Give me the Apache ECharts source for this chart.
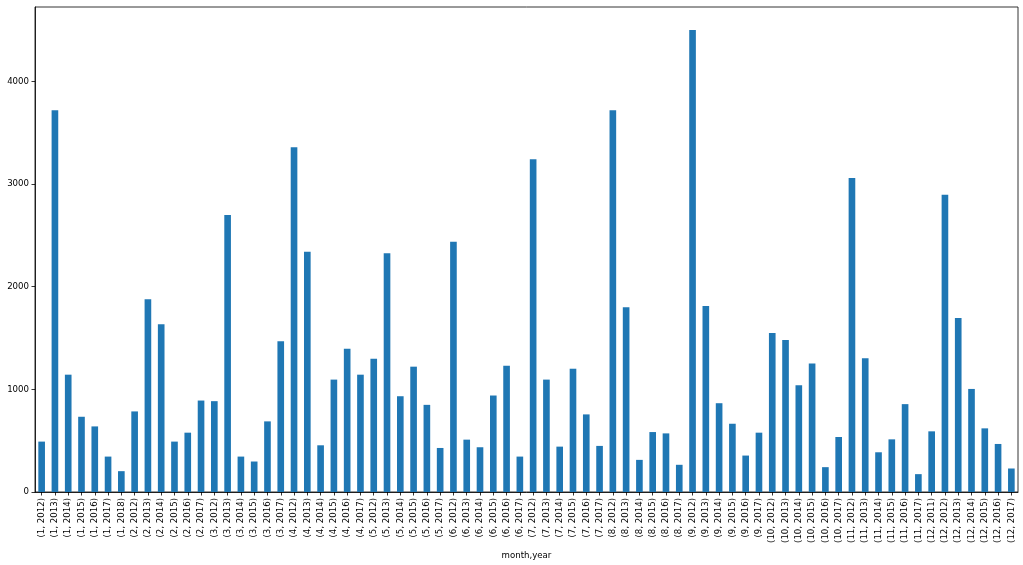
<!DOCTYPE html>
<html>
<head>
<meta charset="utf-8">
<script src="https://cdn.jsdelivr.net/npm/echarts@6/dist/echarts.min.js"></script>
<style>
html,body{margin:0;padding:0;background:#fff;}
#chart{width:1023px;height:565px;}
</style>
</head>
<body>
<div id="chart"></div>
<script>
const categories = [
  "(1, 2012)","(1, 2013)","(1, 2014)","(1, 2015)","(1, 2016)","(1, 2017)","(1, 2018)",
  "(2, 2012)","(2, 2013)","(2, 2014)","(2, 2015)","(2, 2016)","(2, 2017)",
  "(3, 2012)","(3, 2013)","(3, 2014)","(3, 2015)","(3, 2016)","(3, 2017)",
  "(4, 2012)","(4, 2013)","(4, 2014)","(4, 2015)","(4, 2016)","(4, 2017)",
  "(5, 2012)","(5, 2013)","(5, 2014)","(5, 2015)","(5, 2016)","(5, 2017)",
  "(6, 2012)","(6, 2013)","(6, 2014)","(6, 2015)","(6, 2016)","(6, 2017)",
  "(7, 2012)","(7, 2013)","(7, 2014)","(7, 2015)","(7, 2016)","(7, 2017)",
  "(8, 2012)","(8, 2013)","(8, 2014)","(8, 2015)","(8, 2016)","(8, 2017)",
  "(9, 2012)","(9, 2013)","(9, 2014)","(9, 2015)","(9, 2016)","(9, 2017)",
  "(10, 2012)","(10, 2013)","(10, 2014)","(10, 2015)","(10, 2016)","(10, 2017)",
  "(11, 2012)","(11, 2013)","(11, 2014)","(11, 2015)","(11, 2016)","(11, 2017)",
  "(12, 2011)","(12, 2012)","(12, 2013)","(12, 2014)","(12, 2015)","(12, 2016)","(12, 2017)"
];
const values = [
  491, 3720, 1143, 733, 639, 345, 203,
  785, 1879, 1634, 491, 578, 891,
  885, 2699, 345, 297, 688, 1469,
  3358, 2341, 455, 1095, 1395, 1143,
  1298, 2325, 933, 1221, 849, 429,
  2438, 510, 436, 940, 1230, 345,
  3242, 1095, 442, 1201, 756, 449,
  3720, 1799, 313, 584, 571, 265,
  4501, 1811, 865, 665, 355, 578,
  1550, 1482, 1040, 1253, 242, 536,
  3058, 1304, 387, 513, 856, 174,
  591, 2896, 1695, 1004, 620, 468, 229
];
const yTicks = [0, 1000, 2000, 3000, 4000];
const xAxisName = "month,year";

const font = "DejaVu Sans";
const fs = 8.6;
const chart = echarts.init(document.getElementById('chart'), null, {renderer: 'canvas'});
chart.setOption({
  animation: false,
  grid: {left: 35, right: 5, top: 7, bottom: 71, containLabel: false,
         show: true, borderColor: '#000', borderWidth: 0.8, backgroundColor: 'transparent'},
  xAxis: {
    type: 'category',
    data: categories,
    boundaryGap: true,
    name: xAxisName,
    nameLocation: 'middle',
    nameGap: 59,
    nameTextStyle: {fontFamily: font, fontSize: fs, color: '#000'},
    axisLine: {show: true, lineStyle: {color: '#000', width: 0.8}},
    axisTick: {show: true, alignWithLabel: true, length: 3.5, lineStyle: {color: '#000', width: 0.8}},
    axisLabel: {interval: 0, rotate: 90, margin: 6, fontFamily: font, fontSize: fs, color: '#000'},
    splitLine: {show: false}
  },
  yAxis: {
    type: 'value',
    min: 0,
    max: 4725,
    interval: 1000,
    axisLine: {show: true, lineStyle: {color: '#000', width: 0.8}},
    axisTick: {show: true, length: 3.5, lineStyle: {color: '#000', width: 0.8}, customValues: yTicks},
    axisLabel: {margin: 6, fontFamily: font, fontSize: fs, color: '#000', customValues: yTicks,
                formatter: function (v) { return String(v); }},
    splitLine: {show: false}
  },
  series: [{
    type: 'bar',
    data: values,
    barWidth: '50%',
    itemStyle: {color: '#1f77b4'}
  }]
});
</script>
</body>
</html>
